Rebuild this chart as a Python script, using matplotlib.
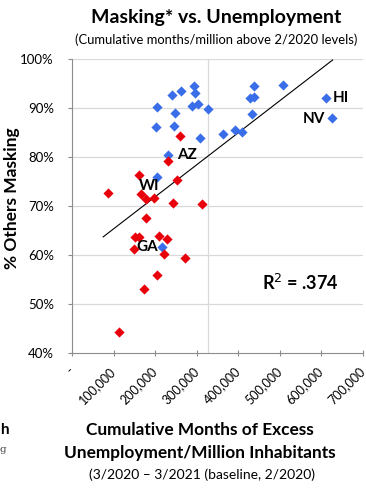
import matplotlib
matplotlib.use("Agg")
import matplotlib.pyplot as plt
from matplotlib.ticker import FuncFormatter

# cumulative months of excess unemployment per million, % others masking
blue_x = [205e3, 241e3, 261e3, 293e3, 297e3, 289e3, 303e3, 328e3, 247e3, 203e3,
          245e3, 308e3, 231e3, 205e3, 216e3, 438e3, 508e3, 428e3, 438e3, 432e3,
          364e3, 393e3, 408e3, 611e3, 626e3]
blue_y = [90.3, 92.7, 93.4, 94.5, 93.0, 90.4, 90.8, 89.8, 89.0, 86.1,
          86.3, 83.9, 80.5, 75.9, 61.6, 94.4, 94.6, 92.1, 92.3, 88.7,
          84.6, 85.5, 85.0, 92.0, 88.0]
red_x = [260e3, 231e3, 161e3, 252e3, 87e3, 166e3, 177e3, 198e3, 244e3, 312e3,
         178e3, 151e3, 161e3, 210e3, 228e3, 149e3, 222e3, 271e3, 204e3, 174e3, 113e3]
red_y = [84.3, 79.2, 76.3, 75.3, 72.6, 72.4, 71.4, 71.6, 70.7, 70.5,
         67.5, 63.7, 63.6, 63.9, 63.3, 61.2, 60.2, 59.3, 55.9, 53.1, 44.3]

# linear trend line end points
trend_x = [75e3, 627e3]
trend_y = [63.7, 99.8]

# labelled states: (name, x, y)
labels = [("AZ", 252e3, 80.4), ("WI", 161e3, 74.1), ("GA", 207e3, 61.6),
          ("HI", 627e3, 92.0), ("NV", 608e3, 87.8)]
label_ha = ["left", "left", "right", "left", "right"]

yticks = [40, 50, 60, 70, 80, 90, 100]
xticks = [0, 100e3, 200e3, 300e3, 400e3, 500e3, 600e3, 700e3]

plt.rcParams['font.family'] = ['Lato', 'DejaVu Sans']

fig = plt.figure(figsize=(3.66, 4.91), dpi=100)
ax = fig.add_axes([72/366, 1-353/491, 291/366, 294/491])

ax.set_xlim(0, 700e3)
ax.set_ylim(40, 100)
for y in yticks[1:]:
    ax.axhline(y, color="#d9d9d9", lw=0.9, zorder=0)
ax.axvline(328e3, color="#d9d9d9", lw=0.9, zorder=0)

ax.plot(trend_x, trend_y, color="black", lw=0.8, zorder=2)
ax.scatter(blue_x, blue_y, marker="D", s=27, color="#3a6ee8", lw=0, zorder=3)
ax.scatter(red_x, red_y, marker="D", s=27, color="#e8000b", lw=0, zorder=3)

for (name, x, y), ha in zip(labels, label_ha):
    ax.text(x, y, name, ha=ha, va="center", fontsize=11, fontweight="bold")

ax.text(0.784, 0.238, "R$^2$ = .374", transform=ax.transAxes, ha="center",
        va="center", fontsize=13, fontweight="bold")

for s in ["top", "right"]:
    ax.spines[s].set_visible(False)
for s in ["left", "bottom"]:
    ax.spines[s].set_color("#8c8c8c")
    ax.spines[s].set_linewidth(0.8)

ax.set_yticks(yticks)
ax.yaxis.set_major_formatter(FuncFormatter(lambda v, p: f"{v:.0f}%"))
ax.set_xticks(xticks)
ax.xaxis.set_major_formatter(FuncFormatter(lambda v, p: "-" if v == 0 else f"{v:,.0f}"))
ax.tick_params(axis="y", length=3, color="#8c8c8c", labelsize=9.5, pad=10)
ax.tick_params(axis="x", direction="inout", length=5, color="#8c8c8c", labelsize=9, pad=9)
plt.setp(ax.get_xticklabels(), rotation=45, ha="right", va="center",
         rotation_mode="anchor")

fig.text(12/366, 1-198/491, "% Others Masking", rotation=90, ha="center",
         va="center", fontsize=12.5, fontweight="bold")

fig.text(0.59, 0.965, "Masking* vs. Unemployment", ha="center", va="center",
         fontsize=14, fontweight="bold")
fig.text(0.59, 0.919, "(Cumulative months/million above 2/2020 levels)",
         ha="center", va="center", fontsize=9.4)
fig.text(0.546, 0.124, "Cumulative Months of Excess", ha="center", va="center",
         fontsize=12.4, fontweight="bold")
fig.text(0.546, 0.077, "Unemployment/Million Inhabitants", ha="center", va="center",
         fontsize=12.4, fontweight="bold")
fig.text(0.553, 0.033, "(3/2020 \u2013 3/2021 (baseline, 2/2020)", ha="center",
         va="center", fontsize=10)
# cropped remnants at left edge
fig.text(0.0, 0.124, "h", ha="left", va="center", fontsize=11, fontweight="bold")
fig.text(0.0, 0.085, "g", ha="left", va="center", fontsize=7.5,
         family="DejaVu Serif", color="#444444")

fig.savefig("out.png", dpi=100)
